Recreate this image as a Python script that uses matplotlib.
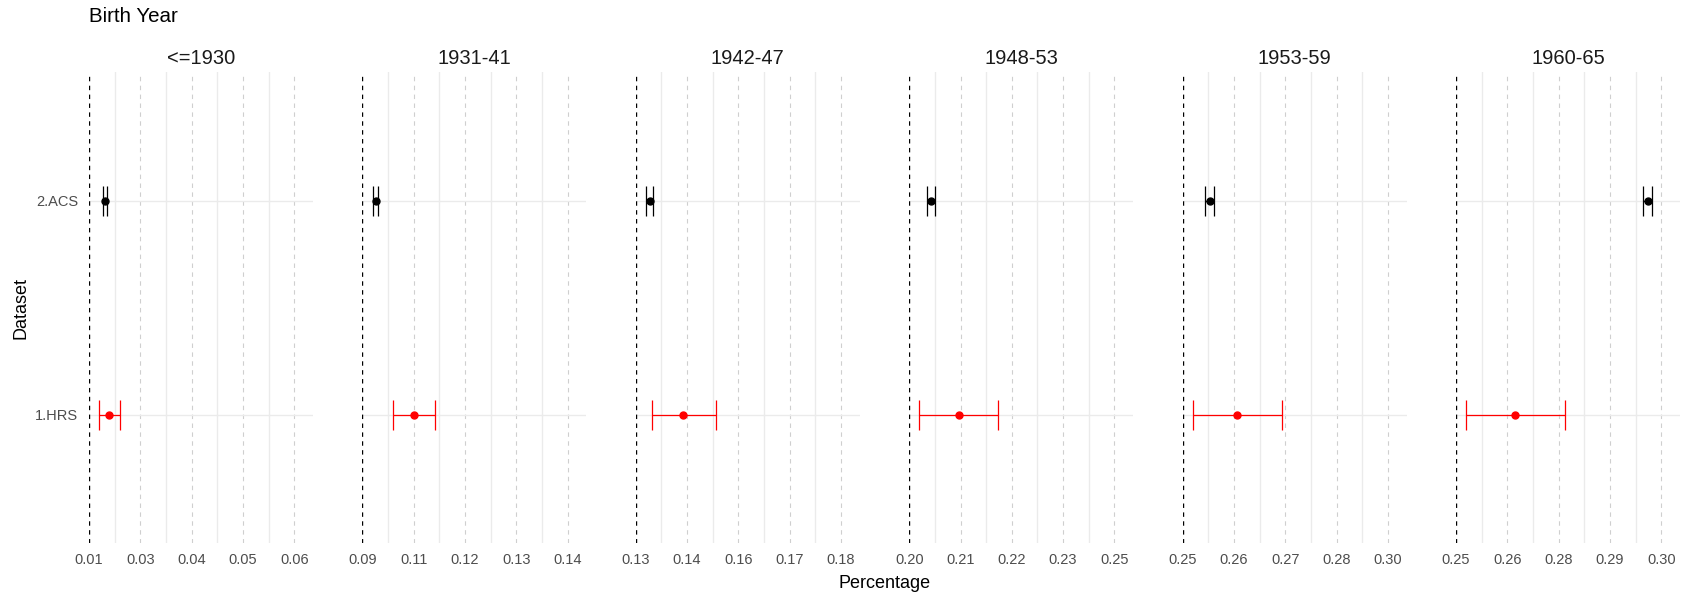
#!/usr/bin/env python3
"""Faceted point + interval chart: share of each birth-year group, HRS vs ACS."""

import matplotlib

matplotlib.use("Agg")
import matplotlib.pyplot as plt
from matplotlib.ticker import FixedLocator

plt.rcParams["font.family"] = ["Liberation Sans", "DejaVu Sans"]

# data -------------------------------------------------------------------
FACETS = ["<=1930", "1931-41", "1942-47", "1948-53", "1953-59", "1960-65"]
DATASETS = ["1.HRS", "2.ACS"]

HRS_EST = [0.01745, 0.10509, 0.14161, 0.20970, 0.26058, 0.26445]
HRS_LO = [0.01494, 0.10005, 0.13398, 0.20034, 0.25037, 0.25251]
HRS_HI = [0.02000, 0.11013, 0.14949, 0.21875, 0.27084, 0.27664]

ACS_EST = [0.01648, 0.09584, 0.13341, 0.20308, 0.25428, 0.29666]
ACS_LO = [0.01599, 0.09510, 0.13251, 0.20221, 0.25322, 0.29556]
ACS_HI = [0.01696, 0.09640, 0.13423, 0.20408, 0.25520, 0.29766]

# x scale per facet: first break (also the dashed reference line) and break step
BREAK_START = [0.0125, 0.0925, 0.1300, 0.1980, 0.2480, 0.2500]
BREAK_STEP = [0.0125, 0.0125, 0.0125, 0.0120, 0.0118, 0.0125]
TICK_LABELS = [
    ["0.01", "0.03", "0.04", "0.05", "0.06"],
    ["0.09", "0.11", "0.12", "0.13", "0.14"],
    ["0.13", "0.14", "0.16", "0.17", "0.18"],
    ["0.20", "0.21", "0.22", "0.23", "0.25"],
    ["0.25", "0.26", "0.27", "0.28", "0.30"],
    ["0.25", "0.26", "0.28", "0.29", "0.30"],
]

# layout (pixels) ----------------------------------------------------------
W, H, DPI = 1688, 601, 100
PANEL_LEFT0 = 89
PANEL_GAP = 273.4
PANEL_W = 224
PANEL_TOP = 72
PANEL_BOTTOM = 543.3
SPAN_STEPS = 4.366  # visible range in units of break steps

TEXT_DARK = "#1a1a1a"
TICK_GREY = "#4d4d4d"

fig = plt.figure(figsize=(W / DPI, H / DPI), dpi=DPI)

series = [
    (DATASETS[0], HRS_EST, HRS_LO, HRS_HI, "#ff0000"),
    (DATASETS[1], ACS_EST, ACS_LO, ACS_HI, "#000000"),
]

for i, facet in enumerate(FACETS):
    left = PANEL_LEFT0 + i * PANEL_GAP
    ax = fig.add_axes(
        [left / W, (H - PANEL_BOTTOM) / H, PANEL_W / W, (PANEL_BOTTOM - PANEL_TOP) / H]
    )
    start, step = BREAK_START[i], BREAK_STEP[i]
    breaks = [start + k * step for k in range(5)]
    minors = [start + (k + 0.5) * step for k in range(5)]

    ax.set_xlim(start, start + SPAN_STEPS * step)
    ax.set_ylim(0.4, 2.6)

    for xm in minors:
        ax.axvline(xm, color="#ebebeb", lw=1.0, zorder=0)
    for xb in breaks[1:]:
        ax.axvline(xb, color="#cfcfcf", lw=0.8, dashes=(4, 4), zorder=0)
    for yv in (1, 2):
        ax.axhline(yv, color="#ebebeb", lw=1.0, zorder=0)
    ax.axvline(start, color="black", lw=1.0, dashes=(3.2, 3.2), zorder=1)

    for pos, (name, est, lo, hi, color) in enumerate(series, start=1):
        ax.errorbar(
            [est[i]],
            [pos],
            xerr=[[est[i] - lo[i]], [hi[i] - est[i]]],
            fmt="o",
            color=color,
            markersize=5,
            elinewidth=0.9,
            capsize=11,
            capthick=0.9,
            zorder=3,
        )

    ax.xaxis.set_major_locator(FixedLocator(breaks))
    ax.set_xticklabels(TICK_LABELS[i])
    ax.set_yticks([1, 2])
    if i == 0:
        ax.set_yticklabels(DATASETS)
    else:
        ax.set_yticklabels([])
    ax.tick_params(axis="both", length=0, labelsize=10.5, labelcolor=TICK_GREY)
    ax.tick_params(axis="x", pad=7)
    ax.tick_params(axis="y", pad=8)
    for spine in ax.spines.values():
        spine.set_visible(False)
    ax.set_facecolor("none")

    fig.text(
        (left + PANEL_W / 2) / W,
        (H - 58) / H,
        facet,
        ha="center",
        va="center",
        fontsize=14.5,
        color=TEXT_DARK,
    )

fig.text(PANEL_LEFT0 / W, (H - 17) / H, "Birth Year", ha="left", va="center",
         fontsize=14.8, color="black")
x_mid = (PANEL_LEFT0 + PANEL_LEFT0 + 5 * PANEL_GAP + PANEL_W) / 2
fig.text(x_mid / W, (H - 584) / H, "Percentage", ha="center", va="center",
         fontsize=13, color="black")
fig.text(21 / W, (H - (PANEL_TOP + PANEL_BOTTOM) / 2) / H, "Dataset", ha="center",
         va="center", rotation=90, fontsize=13, color="black")

fig.savefig("out.png", dpi=DPI, facecolor="white")
plt.close(fig)
